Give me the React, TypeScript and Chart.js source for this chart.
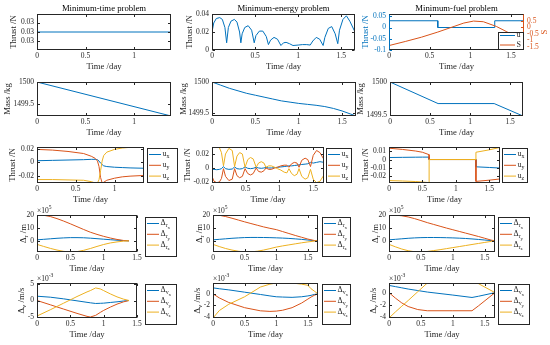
import React, { useEffect, useRef } from "react";
import { Chart, registerables } from "chart.js";
Chart.register(...registerables);

const BLUE = "#0072BD";
const ORANGE = "#D95319";
const YELLOW = "#EDB120";
const DARK = "#262626";
const FONT = "'Liberation Serif', 'Times New Roman', Times, serif";

// ---------------- data ----------------
const panelTitles = ["Minimum-time problem", "Minimum-energy problem", "Minimum-fuel problem"];
const xTitle = "Time /day";

const tfTime = 1.38;
const tfEnergy = 1.66;
const tfFuel = 1.66;

const xTicksShort = [0, 0.5, 1];
const xTicksLong = [0, 0.5, 1, 1.5];

// Row 1: thrust
const timeThrustT = [0, 1.38];
const timeThrustV = [0.03, 0.03];
const timeThrustTicks = [0.02995, 0.03, 0.03005];
const timeThrustLabels = ["0.03", "0.03", "0.03"];

const energyThrustT = [0, 0.02, 0.05, 0.09, 0.12, 0.15, 0.17, 0.19, 0.22, 0.26, 0.29, 0.32, 0.335, 0.35, 0.38, 0.42, 0.46, 0.49, 0.51, 0.55, 0.59, 0.63, 0.655, 0.68, 0.72, 0.76, 0.8, 0.83, 0.86, 0.9, 0.94, 1.0, 1.05, 1.1, 1.14, 1.17, 1.21, 1.25, 1.29, 1.31, 1.35, 1.39, 1.43, 1.46, 1.48, 1.52, 1.56, 1.6, 1.66];
const energyThrustV = [0.02, 0.03, 0.035, 0.036, 0.034, 0.025, 0.008, 0.025, 0.032, 0.034, 0.031, 0.02, 0.008, 0.018, 0.025, 0.027, 0.022, 0.008, 0.016, 0.021, 0.021, 0.015, 0.006, 0.011, 0.014, 0.012, 0.005, 0.008, 0.0085, 0.007, 0.005, 0.0055, 0.006, 0.006, 0.0055, 0.01, 0.014, 0.012, 0.005, 0.014, 0.024, 0.026, 0.018, 0.007, 0.022, 0.034, 0.038, 0.032, 0.02];

const fuelThrustT = [0, 0.6, 0.6, 1.3, 1.3, 1.66];
const fuelThrustV = [0.03, 0.03, 0, 0, 0.03, 0.03];
const fuelST = [0, 0.2, 0.4, 0.6, 0.8, 0.92, 1.04, 1.16, 1.32, 1.44, 1.55, 1.66];
const fuelSV = [-1.41, -1.1, -0.77, -0.38, 0.05, 0.31, 0.46, 0.41, 0.05, -0.33, -0.7, -1.05];

// Row 2: mass
const timeMassT = [0, 1.38];
const timeMassV = [1500, 1499.24];
const energyMassT = [0, 0.1, 0.2, 0.3, 0.4, 0.5, 0.6, 0.7, 0.8, 0.9, 1.0, 1.1, 1.2, 1.3, 1.4, 1.5, 1.6, 1.66];
const energyMassV = [1500, 1499.95, 1499.9, 1499.86, 1499.82, 1499.79, 1499.76, 1499.73, 1499.7, 1499.68, 1499.66, 1499.645, 1499.63, 1499.61, 1499.58, 1499.54, 1499.49, 1499.46];
const fuelMassT = [0, 0.6, 1.3, 1.66];
const fuelMassV = [1500, 1499.67, 1499.67, 1499.48];

// Row 3: thrust components
const timeUT = [0, 0.2, 0.4, 0.6, 0.7, 0.75, 0.78, 0.8, 0.82, 0.84, 0.86, 0.9, 1.0, 1.1, 1.2, 1.38];
const timeUx = [0.0025, 0.003, 0.0035, 0.004, 0.0045, 0.0045, 0.004, 0.002, -0.001, -0.003, -0.005, -0.006, -0.007, -0.0075, -0.008, -0.0085];
const timeUy = [0.019, 0.018, 0.016, 0.013, 0.009, 0.006, 0.002, -0.006, -0.022, -0.03, -0.029, -0.026, -0.023, -0.021, -0.02, -0.019];
const timeUz = [-0.025, -0.025, -0.0255, -0.026, -0.028, -0.03, -0.03, -0.025, -0.012, 0.002, 0.01, 0.015, 0.019, 0.021, 0.022, 0.0225];

const energyUT = [0, 0.03, 0.07, 0.11, 0.14, 0.17, 0.2, 0.25, 0.3, 0.335, 0.37, 0.41, 0.45, 0.49, 0.53, 0.57, 0.61, 0.655, 0.69, 0.73, 0.77, 0.8, 0.84, 0.88, 0.93, 0.97, 1.02, 1.07, 1.11, 1.14, 1.18, 1.22, 1.26, 1.29, 1.33, 1.38, 1.42, 1.46, 1.5, 1.55, 1.6, 1.66];
const energyUx = [-0.002, -0.002, -0.0025, -0.002, -0.001, 0.002, -0.001, -0.002, -0.0015, 0.0015, -0.001, -0.0015, -0.001, 0.0015, -0.0005, -0.001, -0.0005, 0.001, 0, -0.0005, 0, 0.0008, 0, 0, 0.0005, 0.001, 0.0015, 0.002, 0.0025, 0.003, 0.003, 0.0035, 0.004, 0.0045, 0.005, 0.0055, 0.006, 0.008, 0.007, 0.008, 0.009, 0.008];
const energyUy = [-0.012, -0.019, -0.021, -0.02, -0.015, -0.001, -0.012, -0.018, -0.016, -0.001, -0.011, -0.014, -0.012, -0.001, -0.008, -0.01, -0.008, 0, -0.005, -0.006, -0.004, 0, -0.002, -0.002, 0, 0.001, 0.003, 0.004, 0.004, 0.001, 0.006, 0.008, 0.007, 0.001, 0.011, 0.014, 0.012, 0.002, 0.018, 0.025, 0.022, 0.012];
const energyUz = [0.028, 0.03, 0.03, 0.029, 0.022, 0.003, 0.02, 0.028, 0.025, 0.002, 0.017, 0.022, 0.02, 0.001, 0.012, 0.015, 0.013, 0.001, 0.007, 0.009, 0.007, 0.001, 0.003, 0.003, 0.001, -0.001, -0.003, -0.006, -0.007, -0.001, -0.008, -0.011, -0.009, -0.001, -0.012, -0.016, -0.014, -0.002, -0.016, -0.021, -0.019, -0.01];

const fuelUT = [0, 0.2, 0.4, 0.5, 0.6, 0.6, 1.3, 1.3, 1.5, 1.66];
const fuelUx = [0.0025, 0.0027, 0.0029, 0.003, 0.003, 0, 0, -0.009, -0.0098, -0.0105];
const fuelUy = [0.014, 0.0125, 0.0105, 0.009, 0.006, 0, 0, -0.027, -0.0255, -0.024];
const fuelUz = [-0.026, -0.0265, -0.0272, -0.0278, -0.0285, 0, 0, 0.009, 0.012, 0.015];

// Row 4: position deviation (x10^5 m)
const timeDrT = [0, 0.1, 0.2, 0.3, 0.4, 0.5, 0.6, 0.7, 0.8, 0.9, 1.0, 1.1, 1.2, 1.3, 1.38];
const timeDrx = [0.8, 1.2, 1.6, 2.0, 2.3, 2.5, 2.5, 2.4, 2.1, 1.7, 1.3, 0.9, 0.5, 0.2, 0];
const timeDry = [20, 19.8, 18.8, 17.2, 15.3, 13.2, 11, 8.8, 6.7, 5, 3.5, 2.2, 1.1, 0.3, 0];
const timeDrz = [-2.7, -4.3, -5.8, -7.1, -8.1, -8.6, -8.3, -7.3, -5.9, -4.3, -2.8, -1.6, -0.8, -0.2, 0];

const energyDrT = [0, 0.1, 0.2, 0.3, 0.4, 0.5, 0.6, 0.7, 0.8, 0.9, 1.0, 1.1, 1.2, 1.3, 1.4, 1.5, 1.6, 1.66];
const energyDrx = [0.8, 1.2, 1.6, 2.0, 2.3, 2.55, 2.65, 2.65, 2.6, 2.5, 2.35, 2.15, 1.9, 1.55, 1.15, 0.65, 0.2, 0];
const energyDry = [20, 19.8, 18.8, 17.5, 16.1, 14.7, 13.4, 12.1, 10.8, 9.7, 8.7, 7.2, 5.7, 4.2, 2.8, 1.4, 0.3, 0];
const energyDrz = [-2.7, -4.4, -5.9, -7.1, -8.0, -8.6, -8.5, -8.0, -7.1, -6.0, -4.8, -3.9, -3.1, -2.3, -1.5, -0.8, -0.2, 0];

const fuelDrT = [0, 0.1, 0.2, 0.3, 0.4, 0.5, 0.6, 0.7, 0.8, 0.9, 1.0, 1.1, 1.2, 1.3, 1.4, 1.5, 1.6, 1.66];
const fuelDrx = [0.8, 1.2, 1.6, 2.0, 2.3, 2.5, 2.6, 2.6, 2.55, 2.45, 2.3, 2.1, 1.85, 1.5, 1.1, 0.65, 0.2, 0];
const fuelDry = [20, 19.9, 19.4, 18.5, 17.2, 15.7, 14.1, 12.7, 11.3, 9.9, 8.6, 7.3, 6.0, 4.7, 3.4, 2.0, 0.6, 0];
const fuelDrz = [-2.7, -4.6, -6.3, -7.6, -8.4, -8.6, -8.2, -7.5, -6.8, -6.0, -5.2, -4.4, -3.6, -2.8, -2.0, -1.2, -0.4, 0];

// Row 5: velocity deviation (x10^-3 m/s)
const timeDvT = [0, 0.2, 0.4, 0.6, 0.75, 0.8, 0.88, 0.95, 1.0, 1.1, 1.2, 1.3, 1.38];
const timeDvx = [1.3, 1.0, 0.5, -0.1, -0.55, -0.7, -0.9, -0.85, -0.8, -0.6, -0.4, -0.15, 0];
const timeDvy = [0, -1.3, -2.6, -3.9, -4.8, -5.0, -4.5, -3.6, -3.0, -2.0, -1.1, -0.4, 0];
const timeDvz = [-4.7, -2.8, -0.8, 1.2, 2.6, 3.0, 3.8, 3.5, 3.0, 2.0, 1.1, 0.4, 0];

const energyDvT = [0, 0.1, 0.25, 0.5, 0.75, 0.9, 1.0, 1.1, 1.25, 1.4, 1.5, 1.55, 1.6, 1.66];
const energyDvx = [1.05, 0.9, 0.7, 0.3, -0.1, -0.35, -0.5, -0.55, -0.6, -0.5, -0.35, -0.25, -0.1, 0];
const energyDvy = [0, -0.7, -1.5, -2.4, -2.95, -3.05, -3.0, -2.85, -2.4, -1.6, -0.9, -0.55, -0.25, 0];
const energyDvz = [-4.2, -2.9, -1.8, -0.5, 1.2, 1.7, 1.9, 1.9, 1.9, 1.7, 1.5, 0.9, 0.5, 0];

const fuelDvT = [0, 0.1, 0.2, 0.3, 0.45, 0.6, 1.0, 1.3, 1.4, 1.66];
const fuelDvx = [1.2, 1.0, 0.8, 0.6, 0.35, 0.1, -0.4, -0.8, -0.6, 0];
const fuelDvy = [0, -0.9, -1.7, -2.3, -2.8, -3.0, -3.0, -3.0, -2.2, 0];
const fuelDvz = [-4.2, -3.2, -2.25, -1.3, 0.15, 1.6, 1.6, 1.6, 1.5, 0];

// ---------------- layout / types ----------------
type Seg = [string, number];
type Line = { label: Seg[]; color: string; t: number[]; v: number[]; axis?: string };
type Legend = { rect: number[]; pad: number; step: number; sample: number };
type Right = { min: number; max: number; ticks: number[]; title: Seg[]; titleX: number; color: string };
type Spec = {
  canvas: number[];
  plot: number[];
  xMax: number;
  xTicks: number[];
  yMin: number;
  yMax: number;
  yTicks: number[];
  yLabels?: string[];
  yTitle: Seg[];
  yTitleX: number;
  yColor?: string;
  title?: string;
  exp?: Seg[];
  lines: Line[];
  legend?: Legend;
  right?: Right;
};

const colX = [[0, 182], [178, 362], [352, 550]];
const rowY = [[0, 74], [70, 140], [136, 208], [203, 275], [271, 345]];
const cv = (c: number, r: number) => [colX[c][0], rowY[r][0], colX[c][1] - colX[c][0], rowY[r][1] - rowY[r][0]];

const uLab = (c: string): Seg[] => [["u", 0], [c, 1]];
const drLab = (c: string): Seg[] => [["\u0394", 0], ["r", 1], [c, 2]];
const dvLab = (c: string): Seg[] => [["\u0394", 0], ["v", 1], [c, 2]];
const thrustTitle: Seg[] = [["Thrust /N", 0]];
const massTitle: Seg[] = [["Mass /kg", 0]];
const drTitle: Seg[] = [["\u0394", 0], ["r", 1], [" /m", 0]];
const dvTitle: Seg[] = [["\u0394", 0], ["v", 1], [" /m/s", 0]];
const exp5: Seg[] = [["\u00d710", 0], ["5", -1]];
const expm3: Seg[] = [["\u00d710", 0], ["-3", -1]];

const trio = (lab: (c: string) => Seg[], t: number[], a: number[], b: number[], c: number[]): Line[] => [
  { label: lab("x"), color: BLUE, t, v: a },
  { label: lab("y"), color: ORANGE, t, v: b },
  { label: lab("z"), color: YELLOW, t, v: c },
];

const leg3 = (r: number[]): Legend => ({ rect: r, pad: 6.5, step: 10.8, sample: 12 });

const specs: Spec[] = [
  // Row 1
  {
    canvas: cv(0, 0), plot: [37, 14, 171, 50], xMax: tfTime, xTicks: xTicksShort,
    yMin: 0.029905, yMax: 0.030095, yTicks: timeThrustTicks, yLabels: timeThrustLabels,
    yTitle: thrustTitle, yTitleX: 14, title: panelTitles[0],
    lines: [{ label: [["u", 0]], color: BLUE, t: timeThrustT, v: timeThrustV }],
  },
  {
    canvas: cv(1, 0), plot: [212, 14, 355, 50], xMax: tfEnergy, xTicks: xTicksLong,
    yMin: 0, yMax: 0.04, yTicks: [0, 0.02, 0.04],
    yTitle: thrustTitle, yTitleX: 190, title: panelTitles[1],
    lines: [{ label: [["u", 0]], color: BLUE, t: energyThrustT, v: energyThrustV }],
  },
  {
    canvas: cv(2, 0), plot: [389, 14, 524, 50], xMax: tfFuel, xTicks: xTicksLong,
    yMin: -0.1, yMax: 0.06, yTicks: [-0.1, -0.05, 0, 0.05],
    yTitle: thrustTitle, yTitleX: 366, yColor: BLUE, title: panelTitles[2],
    lines: [
      { label: [["u", 0]], color: BLUE, t: fuelThrustT, v: fuelThrustV },
      { label: [["S", 0]], color: ORANGE, t: fuelST, v: fuelSV, axis: "y1" },
    ],
    right: { min: -1.75, max: 1.0, ticks: [-1.5, -1, -0.5, 0, 0.5], title: [["S", 0]], titleX: 545, color: ORANGE },
    legend: { rect: [498, 32, 524, 50], pad: 3.5, step: 9.5, sample: 15 },
  },
  // Row 2
  {
    canvas: cv(0, 1), plot: [37, 82, 171, 116], xMax: tfTime, xTicks: xTicksShort,
    yMin: 1499.24, yMax: 1500, yTicks: [1499.5, 1500],
    yTitle: massTitle, yTitleX: 8,
    lines: [{ label: [["m", 0]], color: BLUE, t: timeMassT, v: timeMassV }],
  },
  {
    canvas: cv(1, 1), plot: [212, 82, 356, 116], xMax: tfEnergy, xTicks: xTicksLong,
    yMin: 1499.46, yMax: 1500, yTicks: [1499.5, 1500],
    yTitle: massTitle, yTitleX: 184,
    lines: [{ label: [["m", 0]], color: BLUE, t: energyMassT, v: energyMassV }],
  },
  {
    canvas: cv(2, 1), plot: [390, 82, 523, 116], xMax: tfFuel, xTicks: xTicksLong,
    yMin: 1499.48, yMax: 1500, yTicks: [1499.5, 1500],
    yTitle: massTitle, yTitleX: 361,
    lines: [{ label: [["m", 0]], color: BLUE, t: fuelMassT, v: fuelMassV }],
  },
  // Row 3
  {
    canvas: cv(0, 2), plot: [37, 147, 144, 183], xMax: tfTime, xTicks: xTicksShort,
    yMin: -0.03, yMax: 0.0225, yTicks: [-0.02, 0, 0.02],
    yTitle: thrustTitle, yTitleX: 13,
    lines: trio(uLab, timeUT, timeUx, timeUy, timeUz),
    legend: leg3([147, 148, 178, 183]),
  },
  {
    canvas: cv(1, 2), plot: [212, 147, 324, 183], xMax: tfEnergy, xTicks: xTicksLong,
    yMin: -0.0215, yMax: 0.03, yTicks: [-0.02, 0, 0.02],
    yTitle: thrustTitle, yTitleX: 188,
    lines: trio(uLab, energyUT, energyUx, energyUy, energyUz),
    legend: leg3([326, 148, 352, 183]),
  },
  {
    canvas: cv(2, 2), plot: [389, 147, 500, 183], xMax: tfFuel, xTicks: xTicksLong,
    yMin: -0.029, yMax: 0.0155, yTicks: [-0.02, -0.01, 0, 0.01],
    yTitle: thrustTitle, yTitleX: 366,
    lines: trio(uLab, fuelUT, fuelUx, fuelUy, fuelUz),
    legend: leg3([502, 148, 528, 183]),
  },
  // Row 4
  {
    canvas: cv(0, 3), plot: [37, 215, 137, 252], xMax: 1.5, xTicks: xTicksLong,
    yMin: -8.6, yMax: 20, yTicks: [0, 10, 20],
    yTitle: drTitle, yTitleX: 24, exp: exp5,
    lines: trio(drLab, timeDrT, timeDrx, timeDry, timeDrz),
    legend: leg3([145, 217, 177, 257]),
  },
  {
    canvas: cv(1, 3), plot: [213, 215, 318, 252], xMax: tfEnergy, xTicks: xTicksLong,
    yMin: -8.6, yMax: 20, yTicks: [0, 10, 20],
    yTitle: drTitle, yTitleX: 200, exp: exp5,
    lines: trio(drLab, energyDrT, energyDrx, energyDry, energyDrz),
    legend: leg3([322, 217, 351, 257]),
  },
  {
    canvas: cv(2, 3), plot: [389, 215, 495, 252], xMax: tfFuel, xTicks: xTicksLong,
    yMin: -8.6, yMax: 20, yTicks: [0, 10, 20],
    yTitle: drTitle, yTitleX: 376, exp: exp5,
    lines: trio(drLab, fuelDrT, fuelDrx, fuelDry, fuelDrz),
    legend: leg3([498, 217, 530, 257]),
  },
  // Row 5
  {
    canvas: cv(0, 4), plot: [37, 283, 137, 318], xMax: 1.5, xTicks: xTicksLong,
    yMin: -5.3, yMax: 5.3, yTicks: [-5, 0, 5],
    yTitle: dvTitle, yTitleX: 22, exp: expm3,
    lines: trio(dvLab, timeDvT, timeDvx, timeDvy, timeDvz),
    legend: leg3([145, 284, 177, 325]),
  },
  {
    canvas: cv(1, 4), plot: [213, 283, 318, 318], xMax: tfEnergy, xTicks: xTicksLong,
    yMin: -4.2, yMax: 1.9, yTicks: [-4, -2, 0],
    yTitle: dvTitle, yTitleX: 198, exp: expm3,
    lines: trio(dvLab, energyDvT, energyDvx, energyDvy, energyDvz),
    legend: leg3([322, 284, 351, 325]),
  },
  {
    canvas: cv(2, 4), plot: [389, 283, 495, 318], xMax: tfFuel, xTicks: xTicksLong,
    yMin: -4.2, yMax: 1.6, yTicks: [-4, -2, 0],
    yTitle: dvTitle, yTitleX: 374, exp: expm3,
    lines: trio(dvLab, fuelDvT, fuelDvx, fuelDvy, fuelDvz),
    legend: leg3([498, 284, 530, 325]),
  },
];

// ---------------- drawing helpers ----------------
const fmt = (v: number) => String(parseFloat(Number(v).toFixed(6)));

function drawRich(ctx: CanvasRenderingContext2D, segs: Seg[], x: number, y: number, align: string, base: number, color: string) {
  const size = (l: number) => (l === 0 ? base : l === 2 ? base * 0.62 : base * 0.74);
  const dy = (l: number) => (l === 0 ? 0 : l === 1 ? base * 0.32 : l === 2 ? base * 0.55 : -base * 0.42);
  let w = 0;
  for (const [t, l] of segs) {
    ctx.font = `${size(l)}px ${FONT}`;
    w += ctx.measureText(t).width;
  }
  let cx = align === "center" ? x - w / 2 : align === "right" ? x - w : x;
  ctx.textAlign = "left";
  ctx.textBaseline = "middle";
  ctx.fillStyle = color;
  for (const [t, l] of segs) {
    ctx.font = `${size(l)}px ${FONT}`;
    ctx.fillText(t, cx, y + dy(l));
    cx += ctx.measureText(t).width;
  }
}

function Panel({ spec }: { spec: Spec }) {
  const ref = useRef<HTMLCanvasElement>(null);
  const [cx, cy, cw, ch] = spec.canvas;
  useEffect(() => {
    const s = spec;
    const [pl, pt, pr, pb] = s.plot;
    const tickFont = { family: FONT, size: 7.5 };
    const deco = {
      id: "deco",
      afterDraw(chart: any) {
        const ctx: CanvasRenderingContext2D = chart.ctx;
        const a = chart.chartArea;
        const L = Math.round(a.left) + 0.5;
        const R = Math.round(a.right) - 0.5;
        const T = Math.round(a.top) + 0.5;
        const B = Math.round(a.bottom) - 0.5;
        const seg = (x1: number, y1: number, x2: number, y2: number, c: string) => {
          ctx.strokeStyle = c;
          ctx.beginPath();
          ctx.moveTo(x1, y1);
          ctx.lineTo(x2, y2);
          ctx.stroke();
        };
        ctx.save();
        ctx.lineWidth = 1;
        const tl = 2.5;
        const xs = chart.scales.x;
        for (const t of xs.ticks) {
          const px = Math.round(xs.getPixelForValue(t.value)) + 0.5;
          seg(px, B, px, B - tl, DARK);
          seg(px, T, px, T + tl, DARK);
        }
        const ys = chart.scales.y;
        const lc = s.yColor || DARK;
        const rc = s.right ? s.right.color : DARK;
        for (const t of ys.ticks) {
          const py = Math.round(ys.getPixelForValue(t.value)) + 0.5;
          seg(L, py, L + tl, py, lc);
          if (!s.right) seg(R, py, R - tl, py, DARK);
        }
        if (s.right) {
          const y1 = chart.scales.y1;
          for (const t of y1.ticks) {
            const py = Math.round(y1.getPixelForValue(t.value)) + 0.5;
            seg(R, py, R - tl, py, rc);
          }
        }
        seg(L - 0.5, T, R + 0.5, T, DARK);
        seg(L - 0.5, B, R + 0.5, B, DARK);
        seg(L, T, L, B, lc);
        seg(R, T, R, B, rc);

        const midX = (a.left + a.right) / 2;
        const midY = (a.top + a.bottom) / 2;
        if (s.title) drawRich(ctx, [[s.title, 0]], midX, a.top - 5, "center", 8.7, "#000");
        drawRich(ctx, [[xTitle, 0]], midX, a.bottom + 17, "center", 8.7, DARK);
        ctx.save();
        ctx.translate(s.yTitleX - cx, midY);
        ctx.rotate(-Math.PI / 2);
        drawRich(ctx, s.yTitle, 0, 0, "center", 8.7, lc);
        ctx.restore();
        if (s.right) {
          ctx.save();
          ctx.translate(s.right.titleX - cx, midY);
          ctx.rotate(-Math.PI / 2);
          drawRich(ctx, s.right.title, 0, 0, "center", 8.7, rc);
          ctx.restore();
        }
        if (s.exp) drawRich(ctx, s.exp, a.left, a.top - 4, "left", 7.5, DARK);

        if (s.legend) {
          const g = s.legend;
          const lx = g.rect[0] - cx, ly = g.rect[1] - cy, rx = g.rect[2] - cx, by = g.rect[3] - cy;
          ctx.fillStyle = "#ffffff";
          ctx.fillRect(lx, ly, rx - lx, by - ly);
          ctx.lineWidth = 1;
          ctx.strokeStyle = DARK;
          ctx.strokeRect(Math.round(lx) + 0.5, Math.round(ly) + 0.5, Math.round(rx - lx) - 1, Math.round(by - ly) - 1);
          s.lines.forEach((ln, i) => {
            const yy = ly + g.pad + i * g.step;
            ctx.lineWidth = 1;
            seg(lx + 2, yy, lx + 2 + g.sample, yy, ln.color);
            drawRich(ctx, ln.label, lx + 3.5 + g.sample, yy - 0.5, "left", 8, DARK);
          });
        }
        ctx.restore();
      },
    };

    const noGrid = { display: false, drawTicks: false, tickLength: 0 };
    const scales: any = {
      x: {
        type: "linear",
        min: 0,
        max: s.xMax,
        bounds: "data",
        grid: noGrid,
        border: { display: false },
        ticks: { font: tickFont, color: DARK, padding: 2, autoSkip: false, maxRotation: 0, callback: (v: number) => fmt(v) },
        afterBuildTicks: (sc: any) => {
          sc.ticks = s.xTicks.map((v) => ({ value: v }));
        },
        afterFit: (sc: any) => {
          sc.height = cy + ch - pb;
        },
      },
      y: {
        type: "linear",
        position: "left",
        min: s.yMin,
        max: s.yMax,
        bounds: "data",
        grid: noGrid,
        border: { display: false },
        ticks: {
          font: tickFont,
          color: s.yColor || DARK,
          padding: 3,
          autoSkip: false,
          callback: (v: number, i: number) => (s.yLabels ? s.yLabels[i] : fmt(v)),
        },
        afterBuildTicks: (sc: any) => {
          sc.ticks = s.yTicks.map((v) => ({ value: v }));
        },
        afterFit: (sc: any) => {
          sc.width = pl - cx;
        },
      },
    };
    if (s.right) {
      const r = s.right;
      scales.y1 = {
        type: "linear",
        position: "right",
        min: r.min,
        max: r.max,
        bounds: "data",
        grid: noGrid,
        border: { display: false },
        ticks: { font: tickFont, color: r.color, padding: 3, autoSkip: false, callback: (v: number) => fmt(v) },
        afterBuildTicks: (sc: any) => {
          sc.ticks = r.ticks.map((v) => ({ value: v }));
        },
        afterFit: (sc: any) => {
          sc.width = cx + cw - pr;
        },
      };
    }

    const n = s.lines.length;
    const chart = new Chart(ref.current as HTMLCanvasElement, {
      type: "line",
      data: {
        datasets: s.lines.map((ln, i) => ({
          label: ln.label.map((q) => q[0]).join(""),
          data: ln.t.map((t, k) => ({ x: t, y: ln.v[k] })),
          borderColor: ln.color,
          backgroundColor: ln.color,
          borderWidth: 1,
          pointRadius: 0,
          tension: 0,
          fill: false,
          yAxisID: ln.axis || "y",
          order: n - i,
        })),
      },
      options: {
        animation: false,
        responsive: false,
        devicePixelRatio: 1,
        events: [],
        layout: { padding: { left: 0, top: pt - cy, right: s.right ? 0 : cx + cw - pr, bottom: 0 } },
        plugins: { legend: { display: false }, tooltip: { enabled: false }, title: { display: false } },
        scales,
      } as any,
      plugins: [deco],
    });
    return () => chart.destroy();
  }, [spec]);
  return (
    <canvas
      ref={ref}
      width={cw}
      height={ch}
      style={{ position: "absolute", left: cx, top: cy, width: cw, height: ch }}
    />
  );
}

export default function App() {
  return (
    <div style={{ position: "absolute", left: 0, top: 0, width: 550, height: 345, background: "#ffffff", overflow: "hidden" }}>
      {specs.map((s, i) => (
        <Panel key={i} spec={s} />
      ))}
    </div>
  );
}
